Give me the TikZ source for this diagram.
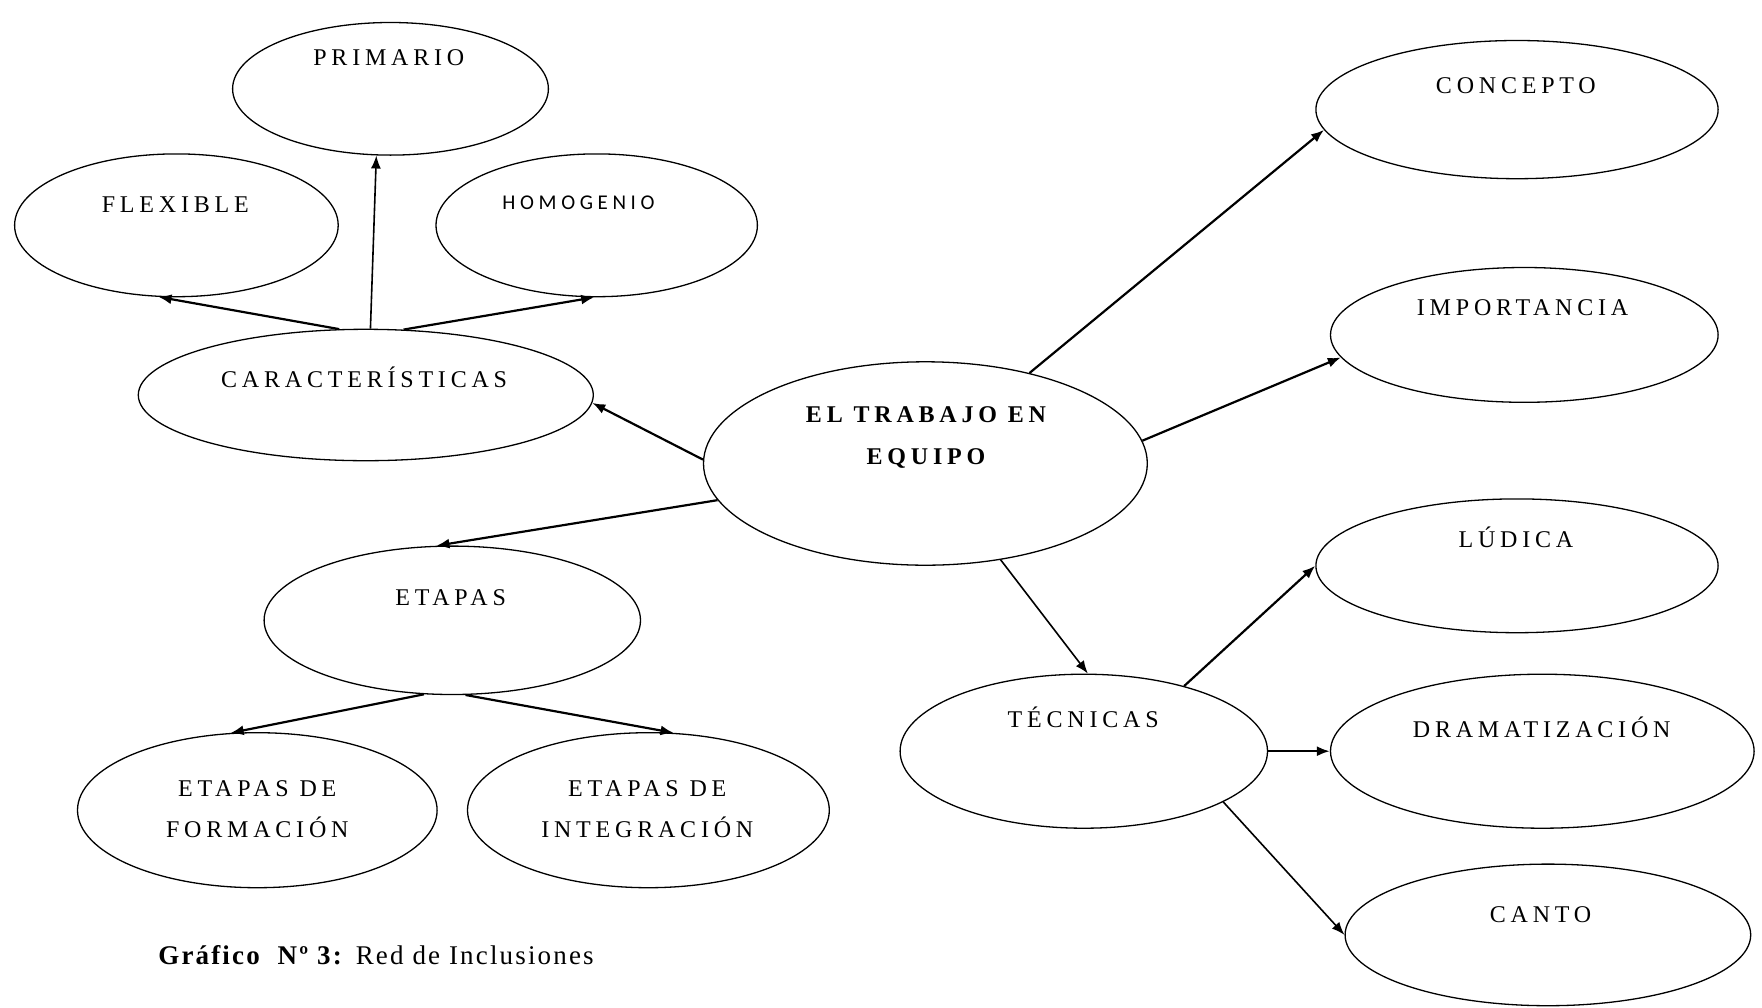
\documentclass[tikz,border=0pt]{standalone}
\usepackage{fontspec}
\setmainfont{Liberation Serif}
\newfontfamily\wordfont{Liberation Serif}[LetterSpace=20]
\newfontfamily\calfont{Carlito}[LetterSpace=22]
\newfontfamily\capfont{Liberation Serif}[LetterSpace=8]
\usetikzlibrary{shapes.geometric, arrows.meta}

\begin{document}
\begin{tikzpicture}[x=0.5pt, y=-0.5pt, >={Latex[length=6.5pt, width=5pt]},
    bubble/.style={draw, ellipse, line width=0.65pt, inner sep=0pt},
    lbl/.style={font=\wordfont\fontsize{12}{20.8}\selectfont, align=center, inner sep=0pt},
    conn/.style={->, line width=1.1pt}]
    \useasboundingbox (0,0) rectangle (1762,1007);

    % left branch
    \node[bubble, minimum width=157.9pt, minimum height=66.3pt] (prim) at (390.5,88.8) {};
    \node[bubble, minimum width=161.8pt, minimum height=71.4pt] (flex) at (176.4,225.3) {};
    \node[bubble, minimum width=160.7pt, minimum height=71.4pt] (homo) at (596.7,225.3) {};
    \node[bubble, minimum width=227.5pt, minimum height=65.7pt] (carac) at (365.8,395.0) {};
    \node[bubble, minimum width=188.2pt, minimum height=74.2pt] (etapas) at (452.3,620.3) {};
    \node[bubble, minimum width=179.8pt, minimum height=77.5pt] (form) at (257.3,810.2) {};
    \node[bubble, minimum width=180.9pt, minimum height=77.5pt] (integ) at (648.4,810.2) {};

    % centre
    \node[bubble, minimum width=221.9pt, minimum height=101.7pt] (eq) at (925.4,463.5) {};

    % right branch
    \node[bubble, minimum width=201.1pt, minimum height=69.1pt] (conc) at (1517,109.6) {};
    \node[bubble, minimum width=193.8pt, minimum height=67.4pt] (imp) at (1524.3,334.9) {};
    \node[bubble, minimum width=201.1pt, minimum height=66.9pt] (lud) at (1517,565.8) {};
    \node[bubble, minimum width=183.7pt, minimum height=77pt] (tec) at (1083.8,751.2) {};
    \node[bubble, minimum width=211.8pt, minimum height=77pt] (drama) at (1542.3,751.2) {};
    \node[bubble, minimum width=202.8pt, minimum height=70.8pt] (canto) at (1547.9,934.9) {};

    %%%%%%%%%%%%%%%%%%%%
    \node[lbl] (prim-t) at (388.8,57.3) {PRIMARIO};
    \node[lbl] (flex-t) at (175.3,204.5) {FLEXIBLE};
    \node[lbl, font=\calfont\fontsize{10.5}{12}\selectfont] (homo-t) at (578.5,202.5) {HOMOGENIO};
    \node[lbl] (carac-t) at (364.1,377.6) {CARACTERÍSTICAS};
    \node[lbl] (etapas-t) at (450.6,597.8) {ETAPAS};
    \node[lbl] (form-t) at (257.3,809) {ETAPAS DE\\FORMACIÓN};
    \node[lbl] (integ-t) at (647.3,809) {ETAPAS DE\\INTEGRACIÓN};
    \node[lbl, font=\wordfont\bfseries\fontsize{12}{20.8}\selectfont] (eq-t) at (926,437.7) {EL TRABAJO EN\\EQUIPO};
    \node[lbl] (conc-t) at (1515.9,85.4) {CONCEPTO};
    \node[lbl] (imp-t) at (1522.6,307.9) {IMPORTANCIA};
    \node[lbl] (lud-t) at (1515.9,537.1) {LÚDICA};
    \node[lbl] (tec-t) at (1083.2,716.9) {TÉCNICAS};
    \node[lbl] (drama-t) at (1541.7,727.0) {DRAMATIZACIÓN};
    \node[lbl] (canto-t) at (1540.6,914.7) {CANTO};

    \node[anchor=west, inner sep=0pt, font=\capfont\fontsize{13.5}{16}\selectfont] (cap) at (158,955)
        {\textbf{Gráfico~~Nº 3:} Red de Inclusiones};

    % arrows
    \draw[conn] (carac.112) -- (flex.-104);
    \draw[conn, line width=0.8pt] (carac.86.5) -- (prim.-102.7);
    \draw[conn] (carac.60.5) -- (homo.-92.7);
    \draw[conn] (eq.179) -- (carac.-2.1);
    \draw[conn] (eq.190.5) -- (etapas.102.6);
    \draw[conn] (etapas.-111.9) -- (form.109);
    \draw[conn] (etapas.-80.1) -- (integ.72.6);
    \draw[conn] (eq.41.2) -- (conc.186.4);
    \draw[conn] (eq.6.3) -- (imp.187.1);
    \draw[conn, line width=0.8pt] (eq.-52.8) -- (tec.87.4);
    \draw[conn] (tec.33) -- (lud.180);
    \draw[conn] (tec.0) -- (drama.180);
    \draw[conn, line width=0.8pt] (tec.-20.6) -- (canto.180);
\end{tikzpicture}
\end{document}
